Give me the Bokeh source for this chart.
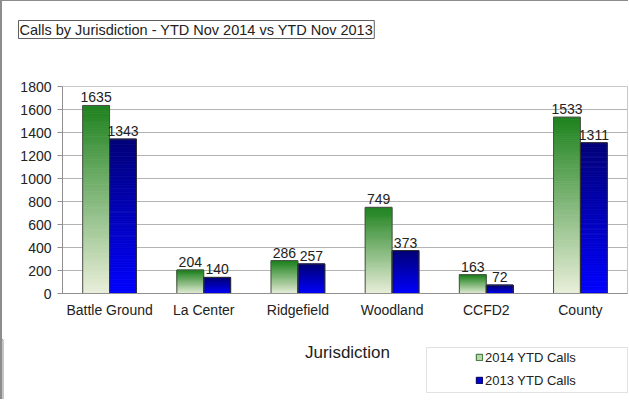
from bokeh.plotting import figure
from bokeh.layouts import column
from bokeh.models import (ColumnDataSource, FactorRange, Range1d, Label, Legend, LegendItem,
                          BoxAnnotation, SingleIntervalTicker, Span)
from bokeh.core.properties import value
from bokeh.transform import dodge
from bokeh.embed import file_html
from bokeh.resources import INLINE

categories = ["Battle Ground", "La Center", "Ridgefield", "Woodland", "CCFD2", "County"]
calls_2014 = [1635, 204, 286, 749, 163, 1533]
calls_2013 = [1343, 140, 257, 373, 72, 1311]
series_names = ["2014 YTD Calls", "2013 YTD Calls"]
title_text = "Calls by Jurisdiction - YTD Nov 2014 vs YTD Nov 2013"
x_title = "Jurisdiction"

FONT = "Liberation Sans"
W = 626
OFF = 0.143
BAR_W = 0.285
N_SLICES = 90

GREEN_TOP = (30, 130, 30)
GREEN_BOT = (234, 239, 218)
BLUE_TOP = (0, 0, 120)
BLUE_BOT = (0, 0, 255)


def lerp(c1, c2, t):
    return "#%02x%02x%02x" % tuple(int(round(a + (b - a) * t)) for a, b in zip(c1, c2))


def gradient_source(values, top_c, bot_c):
    d = dict(cat=[], bottom=[], top=[], color=[])
    for cat, v in zip(categories, values):
        for i in range(N_SLICES):
            d["cat"].append(cat)
            d["bottom"].append(v * i / N_SLICES)
            d["top"].append(v * (i + 1) / N_SLICES)
            d["color"].append(lerp(bot_c, top_c, (i + 0.5) / N_SLICES))
    return ColumnDataSource(d)


def strip(h, y0):
    f = figure(width=W, height=h, output_backend="svg", toolbar_location=None,
               x_range=Range1d(0, W), y_range=Range1d(y0 + h, y0),
               x_axis_location=None, y_axis_location=None,
               min_border=0, min_border_left=0, min_border_right=0,
               min_border_top=0, min_border_bottom=0)
    f.frame_align = False
    f.xgrid.visible = False
    f.ygrid.visible = False
    f.outline_line_color = None
    return f


# ---- top strip: boxed title
top = strip(78, 0)
top.add_layout(Label(x=16, y=19, text=title_text,
                     text_font=FONT, text_font_size="14.5px", text_color="#222222",
                     text_align="left", text_baseline="top", anchor="top_left",
                     padding=1, border_line_color="#606060", border_line_width=1,
                     background_fill_color="white"))

# ---- main chart
p = figure(width=W, height=260, output_backend="svg", toolbar_location=None,
           x_range=FactorRange(*categories, range_padding=0), y_range=Range1d(0, 1800),
           min_border_left=60, min_border_right=1, min_border_top=7, min_border_bottom=46)
p.frame_align = False
p.x_range.factor_padding = 0

main = ColumnDataSource(dict(cat=categories, v14=calls_2014, v13=calls_2013,
                             t14=[str(v) for v in calls_2014], t13=[str(v) for v in calls_2013]))

for vals, tc, bc, off in [(calls_2014, GREEN_TOP, GREEN_BOT, -OFF), (calls_2013, BLUE_TOP, BLUE_BOT, OFF)]:
    src = gradient_source(vals, tc, bc)
    p.vbar(x=dodge("cat", off, range=p.x_range), bottom="bottom", top="top", width=BAR_W,
           source=src, fill_color="color", line_color="color", line_width=0.8)

p.vbar(x=dodge("cat", -OFF, range=p.x_range), top="v14", width=BAR_W, source=main,
       fill_alpha=0, line_color="#505050", line_width=1)
p.vbar(x=dodge("cat", OFF, range=p.x_range), top="v13", width=BAR_W, source=main,
       fill_alpha=0, line_color="#303030", line_width=1)

for col, txt, off in [("v14", "t14", -OFF), ("v13", "t13", OFF)]:
    p.text(x=dodge("cat", off, range=p.x_range), y=col, text=txt, source=main,
           text_align="center", text_baseline="bottom", y_offset=-3,
           text_font=value(FONT), text_font_size="14px", text_color="#222222")

p.yaxis.ticker = SingleIntervalTicker(interval=200)
for ax in (p.xaxis[0], p.yaxis[0]):
    ax.major_label_text_font = FONT
    ax.major_label_text_font_size = "14px"
    ax.major_label_text_color = "#222222"
    ax.axis_line_color = "#909090"
    ax.major_tick_line_color = "#909090"
    ax.minor_tick_line_color = None
    ax.major_tick_in = 0
p.yaxis.major_tick_out = 5
p.yaxis.major_label_standoff = 6
p.xaxis.major_tick_out = 0
p.xaxis.major_label_standoff = 8

p.xgrid.grid_line_color = None
p.ygrid.grid_line_color = "#b4b4b4"
p.outline_line_color = "#c8c8c8"

# ---- bottom strip: axis title and legend
bot = strip(60, 338)
bot.add_layout(Span(location=0, dimension="height", line_color="#8c8c8c", line_width=2))
bot.add_layout(Label(x=345, y=351, text=x_title, text_font=FONT, text_font_size="17px",
                     text_color="#222222", text_align="center", text_baseline="middle"))
bot.add_layout(BoxAnnotation(left=424, right=W - 1, top=346, bottom=391,
                             fill_color="white", fill_alpha=1, line_color="#a0a0a0", line_width=1))

dummy = ColumnDataSource(dict(x=[-1000], top=[-1000]))
g14 = bot.vbar(x="x", top="top", width=0.1, source=dummy, fill_color="#b8d8a8", line_color="#2a6a2a")
g13 = bot.vbar(x="x", top="top", width=0.1, source=dummy, fill_color="#0000d0", line_color="#000050")
legend = Legend(items=[LegendItem(label=series_names[0], renderers=[g14]),
                       LegendItem(label=series_names[1], renderers=[g13])],
                location=(473, 9), padding=0, margin=0, spacing=3,
                glyph_width=8, glyph_height=8, label_height=20, label_standoff=2,
                label_text_font=FONT, label_text_font_size="13px", label_text_color="#222222",
                border_line_alpha=0, background_fill_alpha=0)
bot.add_layout(legend)

layout = column(top, p, bot, spacing=0,
                styles={"border-left": "2px solid #8c8c8c", "border-top": "1px solid #8c8c8c"})

open("out.html", "w").write(file_html(layout, INLINE))
